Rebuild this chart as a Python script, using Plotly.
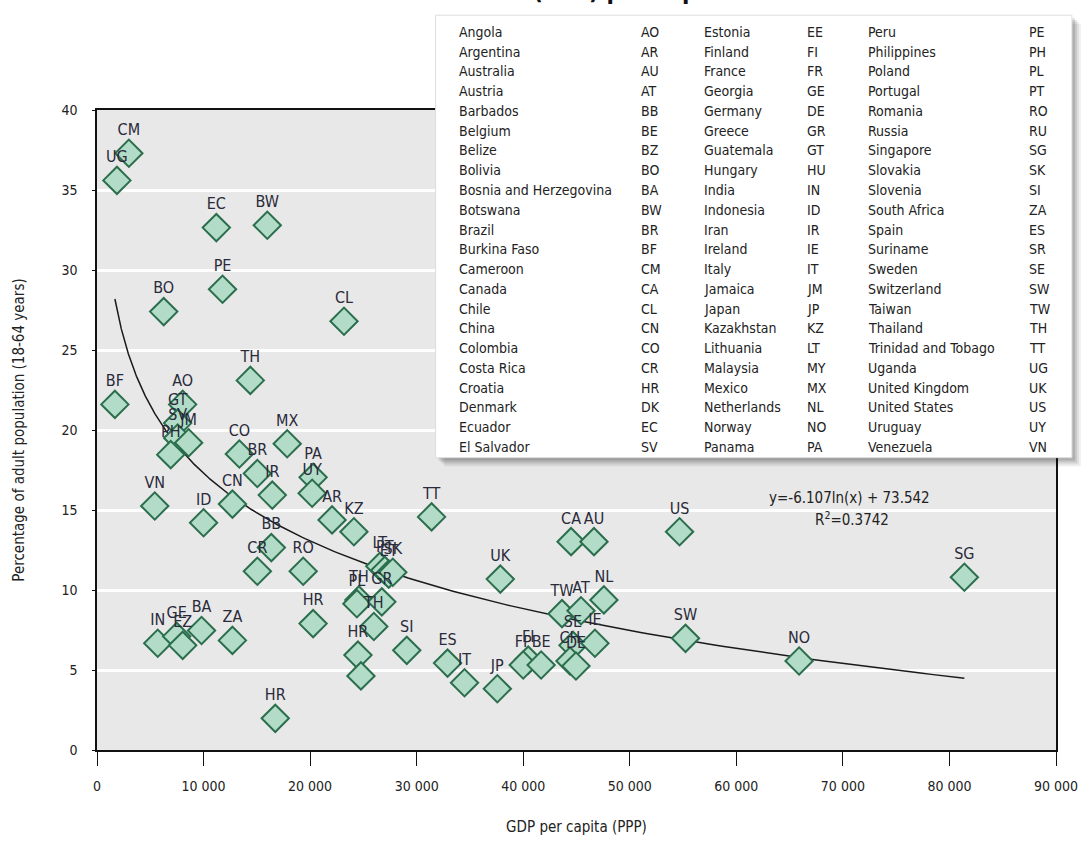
import numpy as np
import plotly.graph_objects as go

# ---------------- data ----------------
codes = ["CM", "UG", "EC", "BW", "PE", "BO", "CL", "TH", "BF", "AO",
         "GT", "SV", "JM", "PH", "VN", "ID", "CN", "CO", "BR", "IR",
         "MX", "PA", "UY", "AR", "KZ", "TT", "BB", "CR", "RO", "HR",
         "HR", "ZA", "BA", "IN", "GE", "EZ", "LT", "PT", "ET", "SK",
         "TH", "PL", "GR", "TH", "HR", "", "SI", "ES", "IT", "JP",
         "UK", "TW", "AT", "NL", "SE", "IE", "FI", "FP", "BE", "CH",
         "DE", "CA", "AU", "US", "SW", "NO", "SG"]
gdp = [2990, 1870, 11200, 15980, 11780, 6260, 23180, 14390, 1680, 8040,
       7570, 7570, 8600, 6920, 5420, 10000, 12710, 13360, 15050, 16450,
       17850, 20280, 20190, 22060, 24110, 31400, 16360, 15050, 19350, 20280,
       16730, 12710, 9810, 5700, 7480, 8040, 26540, 27010, 27380, 27760,
       24580, 24390, 26730, 25980, 24490, 24770, 29070, 32900, 34490, 37570,
       37850, 43640, 45420, 47570, 44670, 46730, 40470, 40000, 41680, 44390,
       44950, 44490, 46640, 54670, 55230, 65890, 81400]
tea = [37.3, 35.6, 32.65, 32.8, 28.8, 27.4, 26.8, 23.1, 21.6, 21.6,
       20.43, 19.5, 19.2, 18.46, 15.25, 14.2, 15.37, 18.5, 17.28, 15.93,
       19.14, 17.04, 16.05, 14.38, 13.64, 14.57, 12.65, 11.17, 11.17, 7.9,
       1.98, 6.85, 7.47, 6.67, 7.1, 6.54, 11.48, 11.23, 10.99, 11.11,
       9.38, 9.14, 9.26, 7.72, 5.93, 4.63, 6.23, 5.43, 4.2, 3.83,
       10.68, 8.52, 8.70, 9.38, 6.54, 6.67, 5.62, 5.31, 5.31, 5.56,
       5.25, 13.02, 13.02, 13.64, 6.98, 5.56, 10.8]

x_ticks = [0, 10000, 20000, 30000, 40000, 50000, 60000, 70000, 80000, 90000]
x_tick_labels = ["0", "10 000", "20 000", "30 000", "40 000", "50 000",
                 "60 000", "70 000", "80 000", "90 000"]
y_ticks = [0, 5, 10, 15, 20, 25, 30, 35, 40]

fit_slope = -6.107
fit_intercept = 73.542
fit_r2 = "0.3742"

legend_names_1 = ["Angola", "Argentina", "Australia", "Austria", "Barbados", "Belgium",
                  "Belize", "Bolivia", "Bosnia and Herzegovina", "Botswana", "Brazil",
                  "Burkina Faso", "Cameroon", "Canada", "Chile", "China", "Colombia",
                  "Costa Rica", "Croatia", "Denmark", "Ecuador", "El Salvador"]
legend_codes_1 = ["AO", "AR", "AU", "AT", "BB", "BE", "BZ", "BO", "BA", "BW", "BR",
                  "BF", "CM", "CA", "CL", "CN", "CO", "CR", "HR", "DK", "EC", "SV"]
legend_names_2 = ["Estonia", "Finland", "France", "Georgia", "Germany", "Greece",
                  "Guatemala", "Hungary", "India", "Indonesia", "Iran", "Ireland",
                  "Italy", "Jamaica", "Japan", "Kazakhstan", "Lithuania", "Malaysia",
                  "Mexico", "Netherlands", "Norway", "Panama"]
legend_codes_2 = ["EE", "FI", "FR", "GE", "DE", "GR", "GT", "HU", "IN", "ID", "IR",
                  "IE", "IT", "JM", "JP", "KZ", "LT", "MY", "MX", "NL", "NO", "PA"]
legend_names_3 = ["Peru", "Philippines", "Poland", "Portugal", "Romania", "Russia",
                  "Singapore", "Slovakia", "Slovenia", "South Africa", "Spain",
                  "Suriname", "Sweden", "Switzerland", "Taiwan", "Thailand",
                  "Trinidad and Tobago", "Uganda", "United Kingdom", "United States",
                  "Uruguay", "Venezuela"]
legend_codes_3 = ["PE", "PH", "PL", "PT", "RO", "RU", "SG", "SK", "SI", "ZA", "ES",
                  "SR", "SE", "SW", "TW", "TH", "TT", "UG", "UK", "US", "UY", "VN"]

title_fragment = "(TEA) per capita"

# ---------------- styling ----------------
FONT = "Liberation Sans Narrow, DejaVu Sans Condensed, Arial Narrow, sans-serif"
W, H = 1090, 845
ML, MT = 97, 110
MR = W - 1060
MB = H - 758
PW = W - ML - MR
PH = H - MT - MB


def px_x(px):               # page pixel -> paper
    return (px - ML) / PW


def px_y(py):
    return (H - MB - py) / PH


fig = go.Figure()

# trend line
xc = np.geomspace(min(gdp), max(gdp), 300)
yc = fit_slope * np.log(xc) + fit_intercept
fig.add_trace(go.Scatter(x=xc, y=yc, mode="lines",
                         line=dict(color="#1a1a1a", width=1.5),
                         hoverinfo="skip", showlegend=False))

# points
fig.add_trace(go.Scatter(
    x=gdp, y=tea, mode="markers+text", text=codes, textposition="top center",
    textfont=dict(family=FONT, size=16, color="#2a2a3a"),
    marker=dict(symbol="diamond", size=21, color="#b3dcc8",
                line=dict(color="#2b6e4d", width=2)),
    showlegend=False))

shapes = []
# legend box shadow
bx0, bx1, by0, by1 = 437, 1076, 14, 462
for i, a in enumerate([0.06, 0.08, 0.10, 0.12]):
    off = 9 - 2 * i
    shapes.append(dict(type="rect", xref="paper", yref="paper",
                       x0=px_x(bx0 + off), x1=px_x(bx1 + off),
                       y0=px_y(by1 + off), y1=px_y(by0 + off),
                       fillcolor=f"rgba(0,0,0,{a})", line=dict(width=0), layer="above"))
shapes.append(dict(type="rect", xref="paper", yref="paper",
                   x0=px_x(bx0), x1=px_x(bx1), y0=px_y(by1), y1=px_y(by0),
                   fillcolor="white", line=dict(color="#dddddd", width=1), layer="above"))

annotations = []
cols = [(legend_names_1, 459), (legend_codes_1, 641), (legend_names_2, 705),
        (legend_codes_2, 808), (legend_names_3, 869), (legend_codes_3, 1031)]
for items, cx in cols:
    for i, t in enumerate(items):
        annotations.append(dict(text=t, xref="paper", yref="paper",
                                x=px_x(cx), y=px_y(31 + 20 * i),
                                xanchor="left", yanchor="middle", showarrow=False,
                                font=dict(family=FONT, size=14, color="#222222")))

# equation
annotations.append(dict(text=f"y={fit_slope}ln(x) + {fit_intercept}", xref="paper", yref="paper",
                        x=px_x(853), y=px_y(503), xanchor="center", yanchor="middle",
                        showarrow=False, font=dict(family=FONT, size=15, color="#222222")))
annotations.append(dict(text=f"R<sup>2</sup>={fit_r2}", xref="paper", yref="paper",
                        x=px_x(855), y=px_y(524), xanchor="center", yanchor="middle",
                        showarrow=False, font=dict(family=FONT, size=15, color="#222222")))

# title, mostly cut off by the top edge as in the reference
annotations.append(dict(text=f"<b>{title_fragment}</b>", xref="paper", yref="paper",
                        x=px_x(533), y=px_y(6), xanchor="left", yanchor="bottom",
                        showarrow=False, font=dict(family=FONT, size=24, color="#111111")))

fig.update_layout(
    width=W, height=H,
    margin=dict(l=ML, r=MR, t=MT, b=MB, pad=0),
    paper_bgcolor="white", plot_bgcolor="#e8e8e8",
    font=dict(family=FONT, size=14, color="#222222"),
    shapes=shapes, annotations=annotations,
    showlegend=False,
)
fig.update_xaxes(range=[0, 90000], tickvals=x_ticks, ticktext=x_tick_labels,
                 showgrid=False, zeroline=False, showline=True, linecolor="#111111",
                 linewidth=1.5, mirror=True, ticks="outside", ticklen=14,
                 tickcolor="#111111", tickwidth=1.2, ticklabelstandoff=8,
                 ticklabeloverflow="allow",
                 tickfont=dict(family=FONT, size=14, color="#222222"),
                 title=dict(text="GDP per capita (PPP)", standoff=29,
                            font=dict(family=FONT, size=15, color="#222222")))
fig.update_yaxes(range=[0, 40], tickvals=y_ticks, showgrid=True, gridcolor="white",
                 gridwidth=2.5, zeroline=False, showline=True, linecolor="#111111",
                 linewidth=1.5, mirror=True, ticks="outside", ticklen=3,
                 tickcolor="#111111", ticklabelstandoff=12,
                 tickfont=dict(family=FONT, size=14, color="#222222"),
                 title=dict(text="Percentage of adult population (18-64 years)", standoff=33,
                            font=dict(family=FONT, size=15, color="#222222")))

fig.write_html("out.html", config={"displayModeBar": False},
               post_script="document.body.style.margin='0';"
                           "document.body.style.overflow='hidden';")
